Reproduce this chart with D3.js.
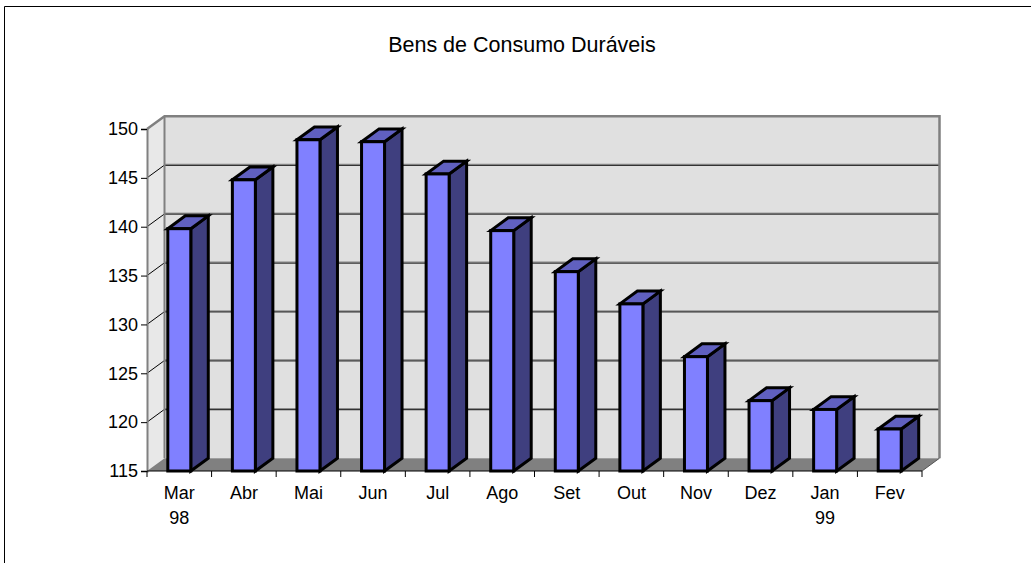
<!DOCTYPE html>
<html><head><meta charset="utf-8">
<script src="https://cdn.jsdelivr.net/npm/d3@7"></script>
<style>
html,body{margin:0;padding:0;background:#fff;}
svg{display:block;font-family:"Liberation Sans",Arial,sans-serif;}
</style></head>
<body>
<svg id="chart" width="1031" height="563"></svg>
<script>
const title = "Bens de Consumo Duráveis";
const months = ["Mar","Abr","Mai","Jun","Jul","Ago","Set","Out","Nov","Dez","Jan","Fev"];
const years  = ["98","","","","","","","","","","99",""];
const values = [139.8,144.8,148.9,148.7,145.4,139.6,135.4,132.1,126.7,122.2,121.3,119.3];
const yTicks = [115,120,125,130,135,140,145,150];

const svg = d3.select("#chart");
const W = 1031, H = 563;
const x0 = 147, x1 = 922, yBot = 471, yTop = 129;
const dx = 17.5, dy = -12.8;

const x = d3.scaleBand().domain(months).range([x0, x1]).padding(0);
const y = d3.scaleLinear().domain([115, 150]).range([yBot, yTop]);

// outer border
svg.append("path").attr("d", `M4.5,${H} V6.5 H${W}`).attr("fill","none").attr("stroke","#000").attr("stroke-width",1);

// title
svg.append("text").attr("x", 522).attr("y", 52).attr("text-anchor","middle")
  .attr("font-size", 21.5).attr("fill","#000").text(title);

const g = svg.append("g");

// back wall
g.append("rect").attr("x", x0+dx).attr("y", yTop+dy).attr("width", x1-x0).attr("height", yBot-yTop)
  .attr("fill","#e0e0e0");
// left side wall
g.append("path").attr("d", `M${x0},${yBot} L${x0},${yTop} L${x0+dx},${yTop+dy} L${x0+dx},${yBot+dy} Z`)
  .attr("fill","#e8e8e8");
// floor
g.append("path").attr("d", `M${x0},${yBot} L${x1},${yBot} L${x1+dx},${yBot+dy} L${x0+dx},${yBot+dy} Z`)
  .attr("fill","#808080");

// gridlines on back wall and side wall
yTicks.filter(t => t > 115 && t < 150).forEach(t => {
  const yy = y(t);
  g.append("line").attr("x1", x0+dx).attr("x2", x1+dx).attr("y1", yy+dy-0.8).attr("y2", yy+dy-0.8)
    .attr("stroke","#8a8a8a").attr("stroke-width",1);
  g.append("line").attr("x1", x0+dx).attr("x2", x1+dx).attr("y1", yy+dy+0.3).attr("y2", yy+dy+0.3)
    .attr("stroke","#333").attr("stroke-width",1.2);
});
yTicks.filter(t => t > 115 && t < 150).forEach(t => {
  const yy = y(t);
  g.append("line").attr("x1", x0).attr("y1", yy).attr("x2", x0+dx).attr("y2", yy+dy)
    .attr("stroke","#000").attr("stroke-width",1);
});
// wall edges
g.append("path").attr("d", `M${x0},${yTop} L${x0+dx},${yTop+dy} L${x1+dx},${yTop+dy} L${x1+dx},${yBot+dy}`)
  .attr("fill","none").attr("stroke","#808080").attr("stroke-width",2.5);
g.append("line").attr("x1", x0+dx).attr("y1", yTop+dy).attr("x2", x0+dx).attr("y2", yBot+dy)
  .attr("stroke","#808080").attr("stroke-width",2);
g.append("line").attr("x1", x1).attr("y1", yBot).attr("x2", x1+dx).attr("y2", yBot+dy)
  .attr("stroke","#555").attr("stroke-width",1);

// y axis
const yAxis = d3.axisLeft(y).tickValues(yTicks).tickSize(6).tickPadding(3).tickFormat(d3.format("d"));
const ya = svg.append("g").attr("transform", `translate(${x0},0)`).call(yAxis);
ya.select(".domain").attr("stroke","#808080").attr("stroke-width",2);
ya.selectAll(".tick line").attr("stroke","#000");
ya.selectAll(".tick text").attr("font-size",18).attr("fill","#000")
  .attr("font-family","'Liberation Sans',Arial,sans-serif");

// bars
const bw = x.bandwidth() * 0.356;
const bars = svg.append("g");
months.forEach((m, i) => {
  const cx = x(m) + x.bandwidth()/2;
  const xl = cx - bw/2, xr = cx + bw/2;
  const yt = y(values[i]), yb = y(115);
  const bg = bars.append("g").attr("stroke","#000").attr("stroke-width",3).attr("stroke-linejoin","miter");
  bg.append("path").attr("d", `M${xr},${yb} L${xr+dx},${yb+dy} L${xr+dx},${yt+dy} L${xr},${yt} Z`).attr("fill","#3f3f7f");
  bg.append("path").attr("d", `M${xl},${yt} L${xl+dx},${yt+dy} L${xr+dx},${yt+dy} L${xr},${yt} Z`).attr("fill","#6060c0");
  bg.append("rect").attr("x", xl).attr("y", yt).attr("width", bw).attr("height", yb-yt).attr("fill","#8080ff");
});

// x axis line and ticks at band boundaries
const xa = svg.append("g");
xa.append("line").attr("x1", x0).attr("x2", x1).attr("y1", yBot).attr("y2", yBot).attr("stroke","#000").attr("stroke-width",1);
const bounds = months.map(m => x(m)).concat([x1]);
xa.selectAll("line.tk").data(bounds).enter().append("line").attr("class","tk")
  .attr("x1", d => d).attr("x2", d => d).attr("y1", yBot).attr("y2", yBot+6)
  .attr("stroke","#000").attr("stroke-width",1);
const xAxis = d3.axisBottom(x).tickSize(0).tickPadding(0);
const xg = svg.append("g").attr("transform", `translate(0,${yBot})`).call(xAxis);
xg.select(".domain").remove();
xg.selectAll(".tick text").remove();
xg.selectAll(".tick").each(function(m, i) {
  const t = d3.select(this).append("text").attr("text-anchor","middle").attr("fill","#000")
    .attr("font-size",18).attr("font-family","'Liberation Sans',Arial,sans-serif");
  t.append("tspan").attr("x",0).attr("y",28).text(m);
  if (years[i]) t.append("tspan").attr("x",0).attr("y",53).text(years[i]);
});
</script>
</body></html>
